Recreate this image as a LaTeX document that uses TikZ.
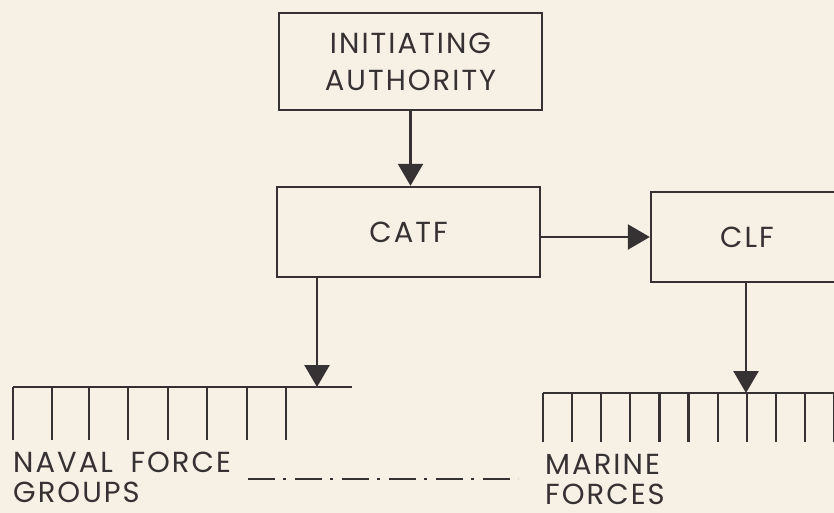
\documentclass[tikz,border=0pt]{standalone}
\usepackage{fontspec}
\setmainfont[LetterSpace=7,WordSpace=1.8]{Poppins}
\usetikzlibrary{arrows.meta}
\definecolor{bg}{HTML}{F7F1E5}
\definecolor{ink}{HTML}{363132}
\begin{document}
\begin{tikzpicture}[x=1pt,y=-1pt,
  box/.style={draw=ink,line width=2.4pt,inner sep=0pt,text=ink,align=center,font=\fontsize{29}{37}\selectfont},
  lbl/.style={inner sep=0pt,text=ink,align=left,font=\fontsize{29}{30}\selectfont},
  ln/.style={draw=ink,line width=2.4pt},
  arr/.style={ln,-{Triangle[length=22pt,width=25pt]}},
  tick/.style={draw=ink,line width=2.2pt}]
\fill[bg] (0,0) rectangle (834,513);
\useasboundingbox (0,0) rectangle (834,513);
\clip (0,0) rectangle (834,513);
\node[box,minimum width=263pt,minimum height=97pt] (ia) at (410.5,61.5) {INITIATING\\AUTHORITY};
\node[box,minimum width=263pt,minimum height=90pt] (catf) at (408.5,232) {CATF};
\node[box,minimum width=192pt,minimum height=90pt] (clf) at (747,237) {CLF};
\draw[arr] (ia.south) -- (ia.south |- catf.north);
\draw[arr] (catf.east |- clf.west) -- (clf.west);
% naval bar
\coordinate (nbL) at (13,387);
\coordinate (nbR) at (352,387);
\coordinate (nbA) at (317,387);
\draw[ln] (nbL) -- (nbR);
\foreach \x in {13,52,89,128,168,207,247,286} \draw[tick] (\x,387) -- (\x,440);
\draw[arr] (catf.south -| nbA) -- (nbA);
% marine bar
\coordinate (mbL) at (543,393);
\coordinate (mbR) at (850,393);
\coordinate (mbA) at (746,393);
\draw[ln] (mbL) -- (mbR);
\foreach \k in {0,...,10} \draw[tick] (543+29.1*\k,393) -- (543+29.1*\k,442);
\draw[arr] (clf.south -| mbA) -- (mbA);
% labels
\node[lbl,anchor=north west] (naval) at (13,452) {NAVAL FORCE\\GROUPS};
\node[lbl,anchor=north west] (marine) at (545,454) {MARINE\\FORCES};
\coordinate (d1) at (248,479);
\coordinate (d2) at (518,479);
\draw[draw=ink,line width=2pt,dash pattern=on 27pt off 8pt on 3pt off 9pt] (d1) -- (d2);
\end{tikzpicture}
\end{document}
